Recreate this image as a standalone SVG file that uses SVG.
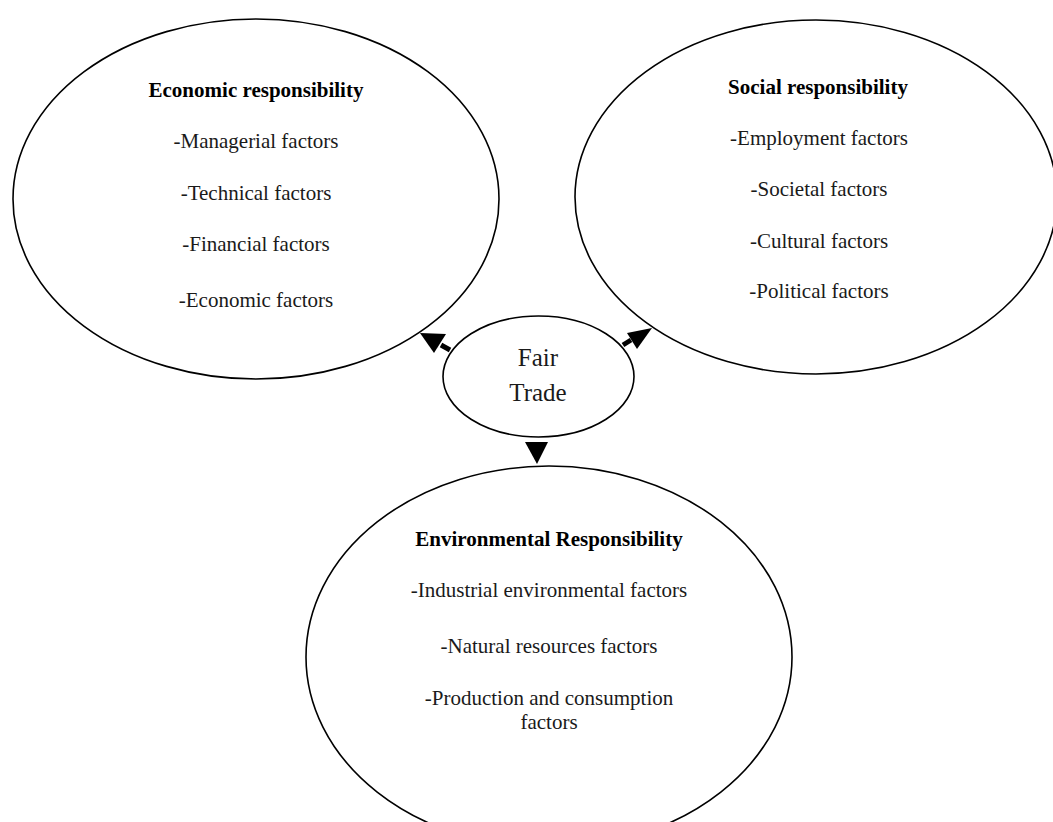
<svg xmlns="http://www.w3.org/2000/svg" width="1053" height="822" viewBox="0 0 1053 822">
<style>
.shape{fill:none;stroke:#000;stroke-width:1.6}
.t{font-family:"Liberation Serif","Times New Roman",serif;font-size:21px;fill:#1a1a1a;text-anchor:middle}
.b{font-weight:bold;fill:#000}
.ft{font-size:25px}
.dash{stroke:#000;stroke-width:5;fill:none}
.head{fill:#000}
</style>
<rect width="1053" height="822" fill="#fff"/>
<g id="economic">
<ellipse class="shape" cx="256" cy="199" rx="243" ry="180"/>
<text class="t b" x="256" y="97">Economic responsibility</text>
<text class="t" x="256" y="148">-Managerial factors</text>
<text class="t" x="256" y="200">-Technical factors</text>
<text class="t" x="256" y="251">-Financial factors</text>
<text class="t" x="256" y="307">-Economic factors</text>
</g>
<g id="social">
<ellipse class="shape" cx="816" cy="197" rx="241" ry="177"/>
<text class="t b" x="818" y="94">Social responsibility</text>
<text class="t" x="819" y="145">-Employment factors</text>
<text class="t" x="819" y="196">-Societal factors</text>
<text class="t" x="819" y="248">-Cultural factors</text>
<text class="t" x="819" y="298">-Political factors</text>
</g>
<g id="environmental">
<ellipse class="shape" cx="549" cy="657" rx="243" ry="191"/>
<text class="t b" x="549" y="546">Environmental Responsibility</text>
<text class="t" x="549" y="597">-Industrial environmental factors</text>
<text class="t" x="549" y="653">-Natural resources factors</text>
<text class="t" x="549" y="705">-Production and consumption</text>
<text class="t" x="549" y="729">factors</text>
</g>
<g id="fairtrade">
<ellipse class="shape" cx="538.5" cy="376.5" rx="95.5" ry="60.5"/>
<text class="t ft" x="538" y="366">Fair</text>
<text class="t ft" x="538" y="401">Trade</text>
</g>
<g id="connectors">
<line class="dash" x1="450" y1="350" x2="441" y2="345"/>
<polygon class="head" points="420,333 434,353 446,334"/>
<line class="dash" x1="623" y1="345" x2="631" y2="340"/>
<polygon class="head" points="652,328 627,333 637,349"/>
<polygon class="head" points="525,442 548,442 537,464"/>
</g>
</svg>
